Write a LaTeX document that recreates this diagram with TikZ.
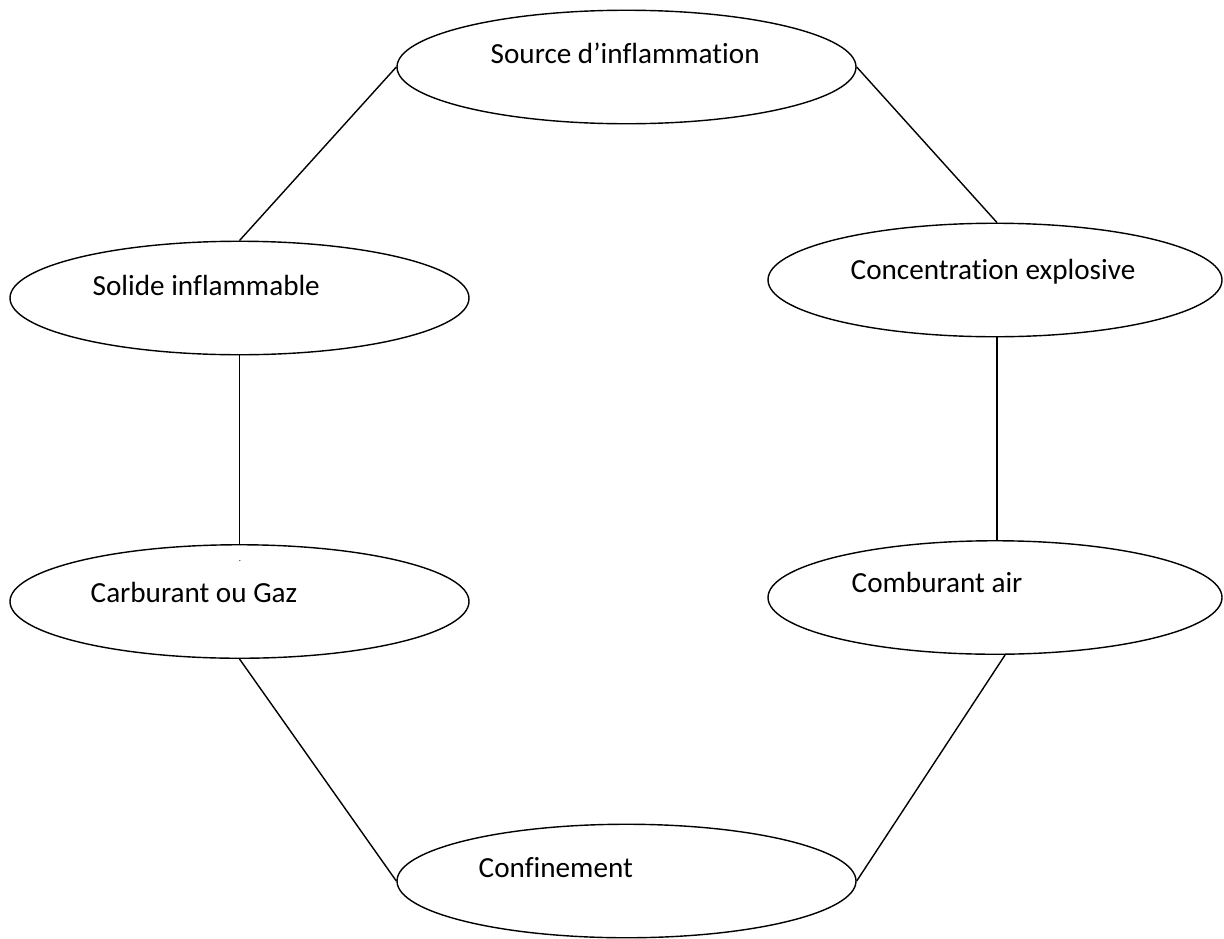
\documentclass[tikz,border=0pt]{standalone}
\usepackage{fontspec}
\setmainfont[Ligatures=NoCommon]{Carlito}
\usetikzlibrary{shapes.geometric,positioning,calc}

\begin{document}
\begin{tikzpicture}[node distance=0cm, auto, line width=0.8pt,
    bulle/.style={draw, ellipse, minimum width=9.18cm, minimum height=2.27cm, inner sep=0pt},
    libelle/.style={right, inner sep=0pt, font=\fontsize{16.6}{20}\selectfont}]
    \useasboundingbox (0,0) rectangle (24.48,-18.76);

    \node [bulle] (src) at (12.53,-1.34) {};
    \node [libelle] at (9.8,-1.06) {Source d’inflammation};

    \node [bulle] (solide) at (4.79,-5.96) {};
    \node [libelle] at (1.84,-5.70) {Solide inflammable};

    \node [bulle, minimum width=9.08cm] (concent) at (19.9,-5.6) {};
    \node [libelle] at (17.0,-5.44) {Concentration explosive};

    \node [bulle] (carbu) at (4.79,-12.03) {};
    \node [libelle] at (1.8,-11.84) {Carburant ou Gaz};
    \node [inner sep=0pt, font=\tiny] (pt) at (4.8,-11.22) {.};

    \node [bulle, minimum width=9.08cm] (combu) at (19.9,-11.95) {};
    \node [libelle] at (17.02,-11.64) {Comburant air};

    \node [bulle] (confin) at (12.53,-17.62) {};
    \node [libelle] at (9.56,-17.36) {Confinement};

    % liaisons
    \draw (src.west) -- (solide.north);
    \draw (src.east) -- (concent.88);
    \draw (solide.south) -- (carbu.north);
    \draw (concent.-88) -- (combu.88);
    \draw (carbu.south) -- (confin.west);
    \draw (combu.-80) -- (confin.east);
\end{tikzpicture}
\end{document}
